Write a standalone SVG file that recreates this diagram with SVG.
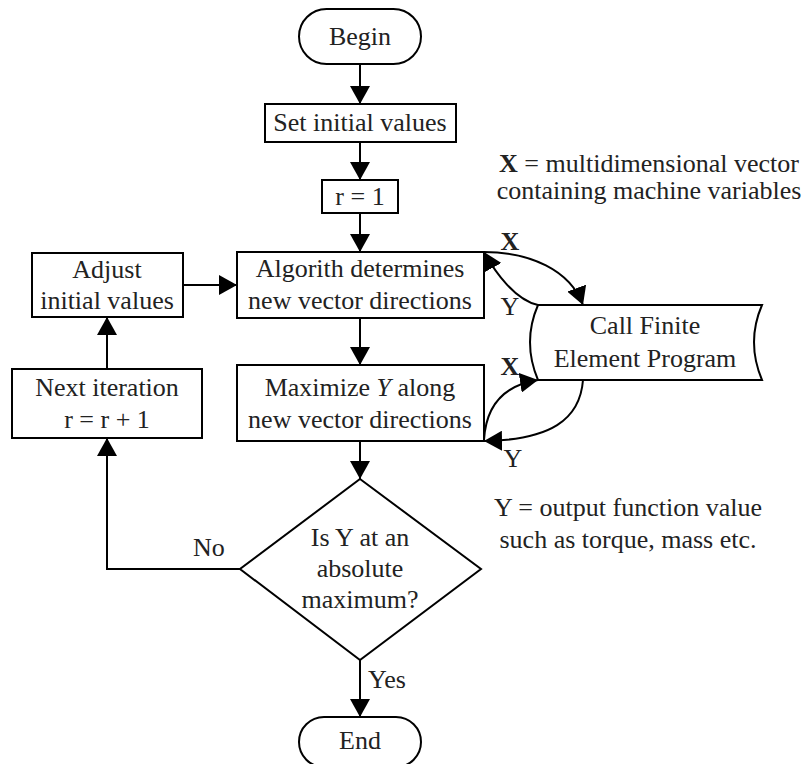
<svg xmlns="http://www.w3.org/2000/svg" width="806" height="764" viewBox="0 0 806 764">
  <defs>
    <style>
      .shape { fill: #ffffff; stroke: #000000; stroke-width: 2; }
      .wire { fill: none; stroke: #000000; stroke-width: 2; marker-end: url(#head); }
      text { font-family: "Liberation Serif", "Times New Roman", serif; font-size: 26px; fill: #222222; text-anchor: middle; }
      .lbl { text-anchor: start; }
      .bold { font-weight: bold; }
    </style>
    <marker id="head" viewBox="0 0 18 20" refX="18" refY="10" markerWidth="18" markerHeight="20" markerUnits="userSpaceOnUse" orient="auto">
      <path d="M0,0 L18,10 L0,20 Z" fill="#000000"/>
    </marker>
  </defs>

  <!-- connectors -->
  <g id="connectors">
    <line class="wire" x1="360" y1="64" x2="360" y2="104"/>
    <line class="wire" x1="360" y1="142" x2="360" y2="180"/>
    <line class="wire" x1="360" y1="213" x2="360" y2="252"/>
    <line class="wire" x1="360" y1="318" x2="360" y2="365"/>
    <line class="wire" x1="360" y1="441" x2="360" y2="479"/>
    <line class="wire" x1="360" y1="660" x2="360" y2="717"/>
    <polyline class="wire" points="240,569 107,569 107,438"/>
    <line class="wire" x1="107" y1="369" x2="107" y2="317"/>
    <line class="wire" x1="183" y1="285" x2="237" y2="285"/>
    <!-- exchanges with the finite element program -->
    <path class="wire" d="M484,252 C530,252 570,270 583,305"/>
    <path class="wire" d="M538,305 C515,300 495,272 484,252"/>
    <path class="wire" d="M484,440 C486,405 505,385 538,380"/>
    <path class="wire" d="M583,380 C580,420 550,440 484,441"/>
    <text class="bold" x="510" y="250">X</text>
    <text x="510" y="315">Y</text>
    <text class="bold" x="510" y="375">X</text>
    <text x="513" y="467">Y</text>
    <text class="lbl" x="193" y="556">No</text>
    <text class="lbl" x="368" y="688">Yes</text>
  </g>

  <g id="begin">
    <rect class="shape" x="299" y="9" width="122" height="55" rx="27.5"/>
    <text x="360" y="45">Begin</text>
  </g>

  <g id="set-initial">
    <rect class="shape" x="265" y="104" width="191" height="38"/>
    <text x="360" y="131">Set initial values</text>
  </g>

  <g id="r-init">
    <rect class="shape" x="322" y="180" width="76" height="33"/>
    <text x="360" y="205">r = 1</text>
  </g>

  <g id="algorithm">
    <rect class="shape" x="237" y="252" width="247" height="66"/>
    <text x="360" y="277">Algorith determines</text>
    <text x="360" y="309">new vector directions</text>
  </g>

  <g id="maximize">
    <rect class="shape" x="237" y="365" width="247" height="76"/>
    <text x="360" y="396">Maximize <tspan font-style="italic">Y</tspan> along</text>
    <text x="360" y="428">new vector directions</text>
  </g>

  <g id="decision">
    <polygon class="shape" points="360,479 481,569 360,660 240,569"/>
    <text x="360" y="546">Is Y at an</text>
    <text x="360" y="577">absolute</text>
    <text x="360" y="608">maximum?</text>
  </g>

  <g id="end">
    <rect class="shape" x="299" y="717" width="122" height="50" rx="25"/>
    <text x="360" y="749">End</text>
  </g>

  <g id="adjust">
    <rect class="shape" x="32" y="253" width="151" height="64"/>
    <text x="107" y="278">Adjust</text>
    <text x="107" y="309">initial values</text>
  </g>

  <g id="next-iteration">
    <rect class="shape" x="12" y="369" width="190" height="69"/>
    <text x="107" y="396">Next iteration</text>
    <text x="107" y="428">r = r + 1</text>
  </g>

  <g id="fem-call">
    <path class="shape" d="M538,305 L762,305 Q746,342 762,380 L538,380 Q522,342 538,305 Z"/>
    <text x="645" y="334">Call Finite</text>
    <text x="645" y="367">Element Program</text>
  </g>

  <g id="notes">
    <text x="649" y="172"><tspan class="bold">X</tspan> = multidimensional vector</text>
    <text x="649" y="199">containing machine variables</text>
    <text x="628" y="516">Y = output function value</text>
    <text x="628" y="548">such as torque, mass etc.</text>
  </g>
</svg>
